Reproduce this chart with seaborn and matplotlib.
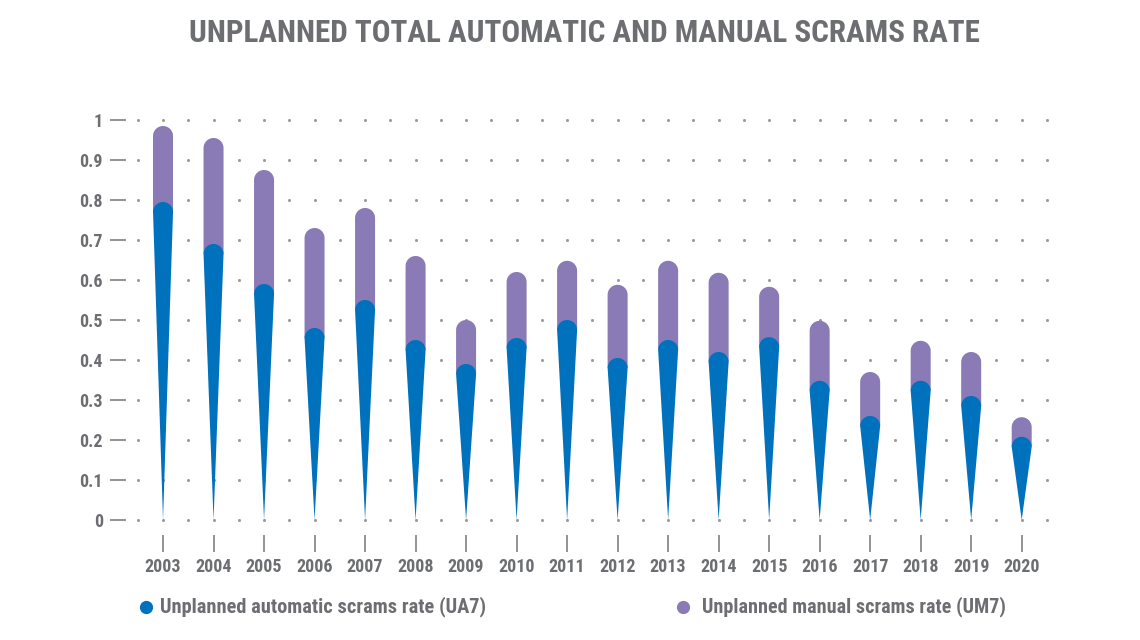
import matplotlib
matplotlib.use("Agg")
import matplotlib.pyplot as plt
import seaborn as sns
import numpy as np
from matplotlib import font_manager
from matplotlib.lines import Line2D

# data
years = [2003, 2004, 2005, 2006, 2007, 2008, 2009, 2010, 2011,
         2012, 2013, 2014, 2015, 2016, 2017, 2018, 2019, 2020]
auto_rate = [0.795, 0.69, 0.59, 0.48, 0.55, 0.45, 0.39, 0.455, 0.50,
             0.405, 0.45, 0.42, 0.457, 0.348, 0.26, 0.348, 0.31, 0.208]
total_rate = [0.985, 0.955, 0.875, 0.73, 0.78, 0.66, 0.50, 0.62, 0.648,
              0.588, 0.648, 0.618, 0.583, 0.498, 0.37, 0.448, 0.42, 0.257]
y_ticks = [0, 0.1, 0.2, 0.3, 0.4, 0.5, 0.6, 0.7, 0.8, 0.9, 1]
y_labels = ["0", "0.1", "0.2", "0.3", "0.4", "0.5", "0.6", "0.7", "0.8", "0.9", "1"]

BLUE = "#0071bc"
PURPLE = "#8a7ab6"
GREY = "#6d6e71"
DOT = "#9c9c9c"

sns.set_theme(style="white")

# pick the narrowest sans available (reference uses a condensed grotesque)
available = {f.name for f in font_manager.fontManager.ttflist}
FONT = ["DejaVu Sans"]
for cand in ["Liberation Sans Narrow", "Roboto Condensed", "Open Sans Condensed",
             "Roboto", "Liberation Sans"]:
    if cand in available:
        FONT = [cand, "DejaVu Sans"]
        break
plt.rcParams["font.family"] = FONT

W, H = 1140, 640
fig = plt.figure(figsize=(W / 100, H / 100), dpi=100)
ax = fig.add_axes([126 / W, 105 / H, (1052 - 126) / W, 423 / H])

x_min, x_max = -0.733, 17.6
y_min, y_max = -0.0375, 1.02
ax.set_xlim(x_min, x_max)
ax.set_ylim(y_min, y_max)

# pixel -> data conversions for the rounded spike shapes
px_x = (x_max - x_min) / (1052 - 126)
px_y = (y_max - y_min) / 423
bar_px = 20
hw = bar_px / 2 * px_x
r = bar_px / 2 * px_y

xs = np.arange(len(years))
auto = np.array(auto_rate)
total = np.array(total_rate)

# dotted background grid
gx, gy = np.meshgrid(np.arange(-0.5, 17.51, 0.5), np.array(y_ticks))
sns.scatterplot(x=gx.ravel(), y=gy.ravel(), s=5, color=DOT, linewidth=0,
                ax=ax, zorder=0, legend=False)

theta = np.linspace(0, np.pi, 40)


def rounded_top(xc, base, top, bottom_point=False):
    # outline of a bar whose top (cap included) sits at `top`
    cy = top - r
    arc_x = xc + hw * np.cos(theta)
    arc_y = cy + r * np.sin(theta)
    if bottom_point:
        px = np.concatenate([[xc], [xc + hw], arc_x, [xc - hw]])
        py = np.concatenate([[base], [cy], arc_y, [cy]])
    else:
        px = np.concatenate([[xc + hw], arc_x, [xc - hw]])
        py = np.concatenate([[base], arc_y, [base]])
    return px, py


for xi, a, t in zip(xs, auto, total):
    px, py = rounded_top(xi, a - r, t)
    ax.fill(px, py, color=PURPLE, linewidth=0, zorder=2)
    px, py = rounded_top(xi, 0, a, bottom_point=True)
    ax.fill(px, py, color=BLUE, linewidth=0, zorder=3)

sns.despine(ax=ax, left=True, bottom=True)
ax.set_xticks(xs)
ax.set_xticklabels([str(y) for y in years])
ax.set_yticks(y_ticks)
ax.set_yticklabels(y_labels)
ax.tick_params(axis="x", length=12.5, width=1.3, color="#8a8a8a", pad=4,
               labelsize=13, labelcolor=GREY, direction="out", bottom=True)
ax.tick_params(axis="y", length=11.5, width=1.3, color="#8a8a8a", pad=5,
               labelsize=13, labelcolor=GREY, direction="out", left=True)
for lab in ax.get_xticklabels() + ax.get_yticklabels():
    lab.set_fontweight("bold")
ax.set_xlabel("")
ax.set_ylabel("")

title = fig.text(584 / W, 1 - 33 / H, "UNPLANNED TOTAL AUTOMATIC AND MANUAL SCRAMS RATE",
                 ha="center", va="center", fontsize=22, fontweight="bold", color=GREY)

# legend
leg_texts = []
for cx, col, txt, tx, tw in [(146, BLUE, "Unplanned automatic scrams rate (UA7)", 160, 333),
                             (683, PURPLE, "Unplanned manual scrams rate (UM7)", 702, 303)]:
    fig.add_artist(Line2D([cx / W], [1 - 607 / H], marker="o", markersize=8.5,
                          color=col, linestyle="none", transform=fig.transFigure))
    t = fig.text(tx / W, 1 - 607 / H, txt, ha="left", va="center",
                 fontsize=12, fontweight="bold", color=GREY)
    leg_texts.append((t, tw))

# fit widths of the long texts to the reference, within a modest range
renderer = fig.canvas.get_renderer()
for t, target in [(title, 792)] + leg_texts:
    w = t.get_window_extent(renderer).width
    fs = t.get_fontsize()
    t.set_fontsize(float(np.clip(fs * target / w, fs * 0.6, fs * 1.22)))

fig.savefig("out.png", dpi=100)
